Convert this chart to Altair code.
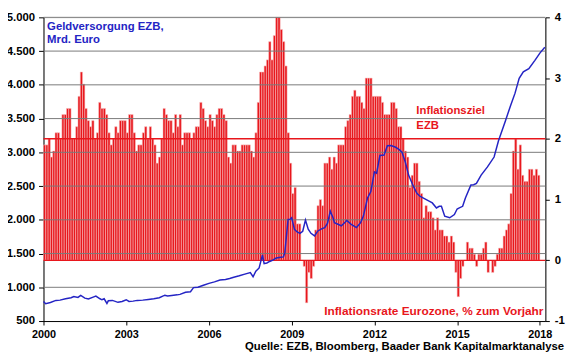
import altair as alt
import pandas as pd

# ---- Inflation rate Eurozone, % yoy (monthly, Jan 2000 - Dec 2017) ----
infl_2000 = [1.9, 1.9, 2.0, 1.7, 1.8, 2.1, 2.1, 2.0, 2.4, 2.4, 2.5, 2.5]
infl_2001 = [2.0, 2.0, 2.2, 2.7, 3.1, 2.9, 2.5, 2.3, 2.2, 2.3, 2.0, 2.1]
infl_2002 = [2.6, 2.5, 2.5, 2.4, 2.1, 1.9, 2.0, 2.2, 2.1, 2.3, 2.3, 2.3]
infl_2003 = [2.1, 2.4, 2.4, 2.1, 1.8, 1.9, 1.9, 2.1, 2.2, 2.0, 2.2, 2.0]
infl_2004 = [1.9, 1.6, 1.7, 2.0, 2.5, 2.4, 2.3, 2.3, 2.1, 2.4, 2.2, 2.4]
infl_2005 = [1.9, 2.1, 2.1, 2.1, 2.0, 2.1, 2.2, 2.2, 2.6, 2.5, 2.3, 2.2]
infl_2006 = [2.4, 2.3, 2.2, 2.4, 2.5, 2.5, 2.4, 2.3, 1.7, 1.6, 1.9, 1.9]
infl_2007 = [1.8, 1.8, 1.9, 1.9, 1.9, 1.9, 1.8, 1.7, 2.1, 2.6, 3.1, 3.1]
infl_2008 = [3.2, 3.3, 3.6, 3.3, 3.7, 4.0, 4.0, 3.8, 3.6, 3.2, 2.1, 1.6]
infl_2009 = [1.1, 1.2, 0.6, 0.6, 0.0, -0.1, -0.7, -0.2, -0.3, -0.1, 0.5, 0.9]
infl_2010 = [1.0, 0.9, 1.6, 1.6, 1.7, 1.5, 1.7, 1.6, 1.9, 1.9, 1.9, 2.2]
infl_2011 = [2.3, 2.4, 2.7, 2.8, 2.7, 2.7, 2.6, 2.5, 3.0, 3.0, 3.0, 2.7]
infl_2012 = [2.7, 2.7, 2.7, 2.6, 2.4, 2.4, 2.4, 2.6, 2.6, 2.5, 2.2, 2.2]
infl_2013 = [2.0, 1.8, 1.7, 1.2, 1.4, 1.6, 1.6, 1.3, 1.1, 0.7, 0.9, 0.8]
infl_2014 = [0.8, 0.7, 0.5, 0.7, 0.5, 0.5, 0.4, 0.4, 0.3, 0.4, 0.3, -0.2]
infl_2015 = [-0.6, -0.3, -0.1, 0.0, 0.3, 0.2, 0.2, 0.1, -0.1, 0.1, 0.1, 0.2]
infl_2016 = [0.3, -0.2, 0.0, -0.2, -0.1, 0.1, 0.2, 0.2, 0.4, 0.5, 0.6, 1.1]
infl_2017 = [1.8, 2.0, 1.5, 1.9, 1.4, 1.3, 1.3, 1.5, 1.5, 1.4, 1.5, 1.4]

inflation = (infl_2000 + infl_2001 + infl_2002 + infl_2003 + infl_2004 + infl_2005 +
             infl_2006 + infl_2007 + infl_2008 + infl_2009 + infl_2010 + infl_2011 +
             infl_2012 + infl_2013 + infl_2014 + infl_2015 + infl_2016 + infl_2017)

# ---- ECB money supply (balance sheet), bn EUR ----
line_t = [2000.00, 2000.08, 2000.25, 2000.45, 2000.60, 2000.80, 2001.00, 2001.10, 2001.25,
          2001.35, 2001.50, 2001.63, 2001.80, 2001.90, 2002.05, 2002.12, 2002.20, 2002.30,
          2002.35, 2002.50, 2002.70, 2002.85, 2003.00, 2003.10, 2003.25, 2003.40, 2003.60,
          2003.80, 2004.00, 2004.20, 2004.40, 2004.50, 2004.65, 2004.85, 2004.95, 2005.15,
          2005.33, 2005.44, 2005.60, 2005.80, 2006.00, 2006.20, 2006.40, 2006.60, 2006.75,
          2006.90, 2007.10, 2007.30, 2007.50, 2007.60, 2007.70, 2007.82, 2007.94, 2008.00,
          2008.10, 2008.20, 2008.30, 2008.44, 2008.60, 2008.70, 2008.75, 2008.87, 2008.95,
          2009.00, 2009.10, 2009.20, 2009.30, 2009.40, 2009.50, 2009.60, 2009.70, 2009.83,
          2009.95, 2010.10, 2010.20, 2010.30, 2010.40, 2010.50, 2010.55, 2010.70, 2010.80,
          2010.90, 2011.00, 2011.16, 2011.35, 2011.50, 2011.60, 2011.75, 2011.87, 2012.00,
          2012.08, 2012.20, 2012.35, 2012.47, 2012.60, 2012.77, 2012.90, 2013.00, 2013.12,
          2013.24, 2013.42, 2013.54, 2013.65, 2013.78, 2014.00, 2014.10, 2014.25, 2014.35,
          2014.43, 2014.55, 2014.73, 2014.90, 2015.00, 2015.08, 2015.20, 2015.30, 2015.50,
          2015.60, 2015.70, 2015.87, 2016.10, 2016.34, 2016.50, 2016.75, 2016.93, 2017.10,
          2017.25, 2017.40, 2017.60, 2017.82, 2018.00, 2018.18]
line_v = [790, 757, 775, 806, 810, 830, 845, 864, 850,
          880, 840, 826, 855, 870, 830, 815, 830, 760,
          800, 806, 777, 790, 816, 790, 795, 806, 810,
          820, 830, 845, 883, 870, 880, 888, 895, 927,
          935, 995, 1000, 1030, 1058, 1080, 1107, 1115, 1131,
          1150, 1170, 1195, 1219, 1156, 1240, 1287, 1481, 1350,
          1360, 1383, 1400, 1433, 1445, 1450, 1510, 2006, 2010,
          2030, 1860, 1820, 1800, 1830, 1996, 1860, 1800, 1762,
          1835, 1870, 1885, 1950, 2127, 2030, 1958, 1930, 1910,
          1950, 1990, 1933, 1885, 1958, 2055, 2322, 2419, 2710,
          2690, 2953, 2960, 3099, 3100, 3075, 3040, 3002, 2856,
          2662, 2491, 2394, 2350, 2322, 2273, 2250, 2176, 2200,
          2200, 2054, 2030, 2079, 2160, 2176, 2200, 2322, 2516,
          2520, 2540, 2662, 2784, 2930, 3172, 3464, 3683, 3877,
          4096, 4193, 4241, 4363, 4470, 4556]

left_ticks = [500, 1000, 1500, 2000, 2500, 3000, 3500, 4000, 4500, 5000]
grid_levels = [1000, 1500, 2000, 2500, 3000, 3500, 4000, 4500, 5000]
right_ticks = [-1, 0, 1, 2, 3, 4]
x_ticks = [2000, 2003, 2006, 2009, 2012, 2015, 2018]
target_level = [2]
zero_level = [0]

FONT = "Liberation Sans"
RED = "#e8161c"
BLUE = "#2424c4"
GRID = "#7a7a7a"

bar_df = pd.DataFrame({
    "t": [2000 + i / 12 for i in range(len(inflation))],
    "t2": [2000 + (i + 1) / 12 for i in range(len(inflation))],
    "v": inflation,
})
line_df = pd.DataFrame({"t": line_t, "v": line_v})

x_scale = alt.Scale(domain=[2000, 2018.2], nice=False, zero=False)
yl = alt.Scale(domain=[500, 5000], nice=False, zero=False)
yr = alt.Scale(domain=[-1, 4], nice=False, zero=False)

x_axis = alt.Axis(values=x_ticks, format="d", title=None, grid=False, tickSize=4,
                  labelFont=FONT, labelFontWeight="bold", labelFontSize=11,
                  labelColor="black", domainColor="black", tickColor="black",
                  labelPadding=4, labelFlush=False)
left_axis = alt.Axis(orient="left", values=left_ticks, title=None, grid=False,
                     labelExpr="replace(format(datum.value, ','), ',', '.')",
                     tickSize=5, labelPadding=4, labelFont=FONT, labelFontWeight="bold",
                     labelFontSize=11.5, labelColor="black", domainColor="black",
                     tickColor="black")
right_axis = alt.Axis(orient="right", values=right_ticks, title=None, grid=False,
                      labelExpr="'' + datum.value", tickSize=4, labelPadding=5,
                      labelFont=FONT, labelFontWeight="bold", labelFontSize=11.5,
                      labelColor="black", domainColor="black", tickColor="black")

bars = alt.Chart(bar_df).mark_bar(color=RED, stroke="#f8c4c4", strokeWidth=0.55).encode(
    x=alt.X("t:Q", scale=x_scale, axis=x_axis),
    x2="t2:Q",
    y=alt.Y("v:Q", scale=yr, axis=right_axis),
    y2=alt.datum(0),
)

grid = alt.Chart(pd.DataFrame({"g": grid_levels})).mark_rule(color=GRID, strokeWidth=1).encode(
    y=alt.Y("g:Q", scale=yl, axis=None)
)

zero_rule = alt.Chart(pd.DataFrame({"z": zero_level})).mark_rule(color=RED, strokeWidth=1.3).encode(
    y=alt.Y("z:Q", scale=yr, axis=None)
)
target_rule = alt.Chart(pd.DataFrame({"z": target_level})).mark_rule(color=RED, strokeWidth=1.6).encode(
    y=alt.Y("z:Q", scale=yr, axis=None)
)

line = alt.Chart(line_df).mark_line(color=BLUE, strokeWidth=1.5).encode(
    x=alt.X("t:Q", scale=x_scale, axis=x_axis),
    y=alt.Y("v:Q", scale=yl, axis=left_axis),
)

blue_text_df = pd.DataFrame({"t": [2000.13, 2000.13], "v": [4858, 4660],
                             "s": ["Geldversorgung EZB,", "Mrd. Euro"]})
blue_text = alt.Chart(blue_text_df).mark_text(
    align="left", baseline="middle", font=FONT, fontWeight="bold", fontSize=11.5, color=BLUE
).encode(x=alt.X("t:Q", scale=x_scale, axis=x_axis), y=alt.Y("v:Q", scale=yl, axis=None), text="s:N")

red_text_df = pd.DataFrame({"t": [2013.52, 2013.52], "v": [2.45, 2.21],
                            "s": ["Inflationsziel", "EZB"]})
red_text = alt.Chart(red_text_df).mark_text(
    align="left", baseline="middle", font=FONT, fontWeight="bold", fontSize=11.5, color=RED
).encode(x=alt.X("t:Q", scale=x_scale, axis=x_axis), y=alt.Y("v:Q", scale=yr, axis=None), text="s:N")

red_note_df = pd.DataFrame({"t": [2018.13], "v": [-0.83],
                            "s": ["Inflationsrate Eurozone, % zum Vorjahr"]})
red_note = alt.Chart(red_note_df).mark_text(
    align="right", baseline="middle", font=FONT, fontWeight="bold", fontSize=12, color=RED
).encode(x=alt.X("t:Q", scale=x_scale, axis=x_axis), y=alt.Y("v:Q", scale=yr, axis=None), text="s:N")

source_df = pd.DataFrame({"t": [2018.88], "v": [118],
                          "s": ["Quelle: EZB, Bloomberg, Baader Bank Kapitalmarktanalyse"]})
source = alt.Chart(source_df).mark_text(
    align="right", baseline="middle", font=FONT, fontWeight="bold", fontSize=11.5, color="black"
).encode(x=alt.X("t:Q", scale=x_scale, axis=x_axis), y=alt.Y("v:Q", scale=yl, axis=None), text="s:N")

chart = alt.layer(
    bars, grid, zero_rule, target_rule, line, blue_text, red_text, red_note, source
).resolve_scale(y="independent").properties(
    width=509, height=308,
    autosize=alt.AutoSizeParams(type="none"),
    padding={"left": 36, "top": 7, "right": 27, "bottom": 35},
).configure_view(stroke=None).configure(background="white")

chart.save("out.html", embed_options={"renderer": "svg", "actions": False})
